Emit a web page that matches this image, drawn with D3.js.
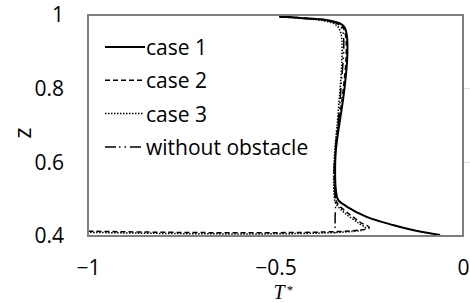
<!DOCTYPE html>
<html>
<head>
<meta charset="utf-8">
<script src="https://cdn.jsdelivr.net/npm/d3@7"></script>
<style>
  body { margin: 0; background: #fff; }
  text { font-family: "Open Sans", sans-serif; fill: #000; }
</style>
</head>
<body>
<div id="chart"></div>
<script>
// profiles: [T*, z]
const case1 = [[-0.488,0.995],[-0.435,0.992],[-0.363,0.986],[-0.328,0.977],[-0.315,0.965],[-0.309,0.938],
  [-0.309,0.878],[-0.315,0.810],[-0.320,0.769],[-0.328,0.715],[-0.339,0.633],[-0.341,0.566],[-0.339,0.525],
  [-0.333,0.498],[-0.310,0.480],[-0.257,0.452],[-0.187,0.430],[-0.115,0.412],[-0.061,0.403]]
const case2 = [[-0.49,0.996],[-0.43,0.992],[-0.36,0.985],[-0.33,0.976],[-0.318,0.962],[-0.312,0.935],
  [-0.312,0.878],[-0.318,0.81],[-0.324,0.76],[-0.331,0.71],[-0.340,0.63],[-0.343,0.56],[-0.341,0.52],
  [-0.336,0.49],[-0.31,0.465],[-0.275,0.438],[-0.25,0.422],[-1,0.413]]
const case3 = [[-0.49,0.996],[-0.43,0.991],[-0.37,0.984],[-0.34,0.974],[-0.328,0.958],[-0.323,0.93],
  [-0.323,0.875],[-0.327,0.81],[-0.331,0.76],[-0.335,0.71],[-0.342,0.63],[-0.345,0.56],[-0.344,0.52],
  [-0.34,0.49],[-0.315,0.462],[-0.28,0.436],[-0.26,0.420],[-1,0.410]]
const noObstacle = [[-0.49,0.995],[-0.43,0.991],[-0.365,0.985],[-0.333,0.975],[-0.322,0.96],[-0.318,0.93],
  [-0.320,0.87],[-0.325,0.81],[-0.328,0.76],[-0.333,0.71],[-0.341,0.63],[-0.344,0.56],[-0.342,0.52],
  [-0.340,0.49],[-0.341,0.45],[-0.341,0.40]]

const seriesNames = ["case 1", "case 2", "case 3", "without obstacle"]
const xTicks = [-1, -0.5, 0]
const yTicks = [0.4, 0.6, 0.8, 1]

const series = [
  {name: seriesNames[0], data: case1, dash: null, w: 2},
  {name: seriesNames[1], data: case2, dash: "5,3", w: 1.5},
  {name: seriesNames[2], data: case3, dash: "1.5,1.5", w: 1.5},
  {name: seriesNames[3], data: noObstacle, dash: "11,3,1.5,4,1.5,4", w: 1.5}
]

const W = 470, H = 303
const m = {left: 88, right: 463, top: 15, bottom: 236}

const svg = d3.select('#chart')
  .append('svg')
    .attr('width', W)
    .attr('height', H)

const x = d3.scaleLinear().domain([-1, 0]).range([m.left, m.right])
const y = d3.scaleLinear().domain([0.4, 1]).range([m.bottom, m.top])

// faint ticks outside the frame
svg.append('g')
  .selectAll('line')
  .data([0.6, 0.8])
  .enter()
  .append('line')
    .attr('x1', m.right).attr('x2', W)
    .attr('y1', d => y(d)).attr('y2', d => y(d))
    .style('stroke', '#d9d9d9')
    .style('stroke-width', 1)

const line = d3.line()
  .x(d => x(d[0]))
  .y(d => y(d[1]))
  .curve(d3.curveCatmullRom.alpha(0.5))

svg.append('g')
  .attr('id', 'curves')
  .selectAll('path')
  .data(series)
  .enter()
  .append('path')
    .attr('d', d => line(d.data))
    .style('fill', 'none')
    .style('stroke', '#000')
    .style('stroke-width', d => d.w)
    .style('stroke-dasharray', d => d.dash)

// frame
svg.append('rect')
  .attr('x', m.left).attr('y', m.top)
  .attr('width', m.right - m.left).attr('height', m.bottom - m.top)
  .style('fill', 'none')
  .style('stroke', '#7f7f7f')
  .style('stroke-width', 2)

// y axis
const yAxis = svg.append('g')
  .attr('transform', `translate(${m.left},0)`)
  .call(d3.axisLeft(y).tickValues(yTicks).tickSize(0).tickPadding(24)
    .tickFormat(d3.format('')))
yAxis.select('.domain').remove()
yAxis.selectAll('text')
  .style('font-size', '21px')
  .style('font-family', '"Open Sans", sans-serif')

// x axis
const xAxis = svg.append('g')
  .attr('transform', `translate(0,${m.bottom})`)
  .call(d3.axisBottom(x).tickValues(xTicks).tickSize(0).tickPadding(24)
    .tickFormat(d3.format('')))
xAxis.select('.domain').remove()
xAxis.selectAll('text')
  .style('font-size', '21px')
  .style('font-family', '"Open Sans", sans-serif')

// axis titles
svg.append('text')
  .attr('transform', 'translate(31,133) rotate(-90)')
  .attr('text-anchor', 'middle')
  .style('font-size', '24px')
  .text('z')

svg.append('text')
  .attr('x', 279).attr('y', 299)
  .attr('text-anchor', 'middle')
  .style('font-family', '"Liberation Serif", serif')
  .style('font-style', 'italic')
  .style('font-size', '20px')
  .text('T')
svg.append('text')
  .attr('x', 290).attr('y', 294)
  .attr('text-anchor', 'middle')
  .style('font-family', '"Liberation Serif", serif')
  .style('font-size', '13px')
  .text('*')

// legend
const leg = svg.append('g')
  .selectAll('g')
  .data(series)
  .enter()
  .append('g')
    .attr('transform', (_, i) => `translate(0,${47 + i * 33.3})`)
leg.append('line')
  .attr('x1', 105).attr('x2', (d, i) => i == 0 ? 145 : 143)
  .style('stroke', '#000')
  .style('stroke-width', d => d.w)
  .style('stroke-dasharray', d => d.dash)
leg.append('text')
  .attr('x', 146).attr('y', 8)
  .style('font-size', '21px')
  .text(d => d.name)
</script>
</body>
</html>
